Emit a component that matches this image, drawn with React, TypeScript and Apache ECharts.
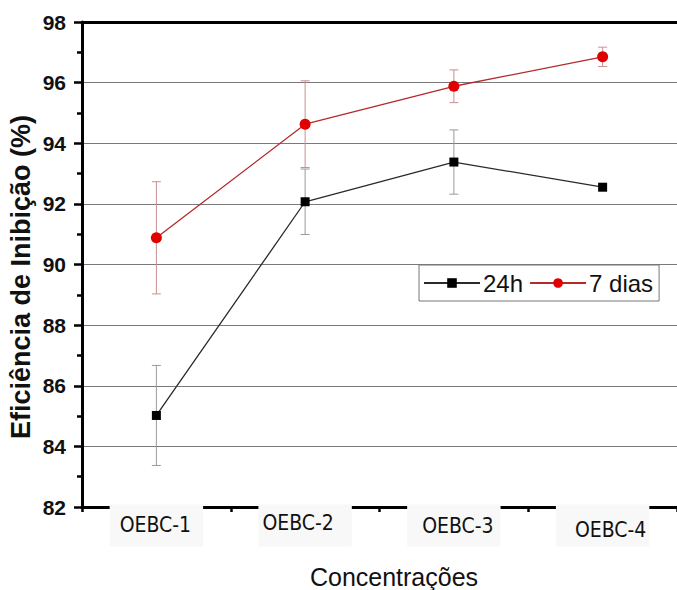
import React, { useEffect, useRef } from "react";
import * as echarts from "echarts";

const categories = ["OEBC-1", "OEBC-2", "OEBC-3", "OEBC-4"];
const h24 = [85.02, 92.07, 93.38, 92.55];
const h24Err = [1.65, 1.08, 1.06, 0];
const d7 = [90.88, 94.63, 95.88, 96.85];
const d7Err = [1.85, 1.43, 0.54, 0.32];
const yMin = 82;
const yMax = 98;
const yStep = 2;
const seriesNames = ["24h", "7 dias"];
const xTitle = "Concentrações";
const yTitle = "Eficiência de Inibição (%)";

const FONT = "Liberation Sans, Arial, sans-serif";
const NARROW = "Liberation Sans Narrow, DejaVu Sans Condensed, Liberation Sans, sans-serif";

// per-label box offsets (layout only): [dx, dy]
const labelShift = [
  [-1, 0],
  [-7, -2],
  [4, 1],
  [8, 5],
];

function errData(vals: number[], errs: number[]) {
  return vals.map((v, i) => [i, v - errs[i], v + errs[i]]);
}

function errRender(color: string) {
  return (params: any, api: any) => {
    const x = api.value(0);
    const lo = api.coord([x, api.value(1)]);
    const hi = api.coord([x, api.value(2)]);
    if (Math.abs(lo[1] - hi[1]) < 0.5) return { type: "group", children: [] };
    const w = 4.5;
    const st = { stroke: color, lineWidth: 1 };
    return {
      type: "group",
      children: [
        { type: "line", shape: { x1: lo[0], y1: lo[1], x2: hi[0], y2: hi[1] }, style: st },
        { type: "line", shape: { x1: lo[0] - w, y1: lo[1], x2: lo[0] + w, y2: lo[1] }, style: st },
        { type: "line", shape: { x1: hi[0] - w, y1: hi[1], x2: hi[0] + w, y2: hi[1] }, style: st },
      ],
    };
  };
}

const rich: Record<string, any> = {};
labelShift.forEach(([dx, dy], i) => {
  rich["l" + i] = {
    fontSize: 21,
    lineHeight: 21,
    fontFamily: NARROW,
    color: "#111",
    backgroundColor: "#f8f8f8",
    padding: [10 + dy, 11 - dx, 11 - dy, 11 + dx],
  };
});

export default function App() {
  const ref = useRef<HTMLDivElement>(null);
  useEffect(() => {
    document.body.style.margin = "0";
    const chart = echarts.init(ref.current!, null, { renderer: "svg" });
    chart.setOption({
      animation: false,
      backgroundColor: "#ffffff",
      grid: { left: 82, top: 22, bottom: 83, right: -8, containLabel: false },
      legend: {
        left: 419,
        top: 265,
        orient: "horizontal",
        padding: [6, 6, 6, 4],
        itemGap: 6,
        itemWidth: 56,
        itemHeight: 12,
        borderColor: "#777",
        borderWidth: 1,
        backgroundColor: "#fff",
        borderRadius: 0,
        textStyle: { fontSize: 24, color: "#111", fontFamily: FONT, padding: [0, 0, 0, -2] },
        data: seriesNames,
      },
      graphic: [
        {
          type: "text",
          x: 21,
          y: 277,
          rotation: Math.PI / 2,
          style: {
            text: yTitle,
            fontSize: 27,
            fontWeight: "bold",
            fontFamily: FONT,
            fill: "#111",
            align: "center",
            verticalAlign: "middle",
          },
        },
        {
          type: "text",
          x: 394,
          y: 577,
          style: {
            text: xTitle,
            fontSize: 25,
            fontFamily: FONT,
            fill: "#111",
            align: "center",
            verticalAlign: "middle",
          },
        },
      ],
      xAxis: [
        {
          type: "category",
          data: categories,
          boundaryGap: true,
          position: "bottom",
          axisLine: { show: true, lineStyle: { color: "#000", width: 3 } },
          axisTick: { show: true, alignWithLabel: true, length: 8, lineStyle: { color: "#000", width: 2.5 } },
          axisLabel: {
            margin: 8,
            formatter: (v: string) => `{l${categories.indexOf(v)}|${v}}`,
            rich,
          },
          splitLine: { show: false },
        },
        {
          type: "category",
          data: categories,
          boundaryGap: true,
          position: "bottom",
          axisLine: { show: false },
          axisTick: { show: true, alignWithLabel: false, length: 5, lineStyle: { color: "#000", width: 2.5 } },
          axisLabel: { show: false },
          splitLine: { show: false },
        },
        {
          type: "category",
          data: categories,
          boundaryGap: true,
          position: "top",
          axisLine: { show: true, lineStyle: { color: "#000", width: 3 } },
          axisTick: { show: false },
          axisLabel: { show: false },
          splitLine: { show: false },
        },
      ],
      yAxis: {
        type: "value",
        min: yMin,
        max: yMax,
        interval: yStep,
        axisLine: { show: true, lineStyle: { color: "#000", width: 3 } },
        axisTick: { show: true, length: 8, lineStyle: { color: "#000", width: 2.5 } },
        minorTick: { show: true, splitNumber: 2, length: 5, lineStyle: { color: "#000", width: 2.5 } },
        axisLabel: { fontSize: 21, fontWeight: "bold", color: "#111", fontFamily: FONT, margin: 16 },
        splitLine: { show: true, lineStyle: { color: "#7a7a7a", width: 1 } },
      },
      series: [
        {
          type: "custom",
          name: "err24",
          xAxisIndex: 0,
          renderItem: errRender("#9a9a9a"),
          data: errData(h24, h24Err),
          encode: { x: 0, y: [1, 2] },
          z: 1,
          silent: true,
        },
        {
          type: "custom",
          name: "err7",
          xAxisIndex: 0,
          renderItem: errRender("#c98f8f"),
          data: errData(d7, d7Err),
          encode: { x: 0, y: [1, 2] },
          z: 1,
          silent: true,
        },
        {
          type: "line",
          name: seriesNames[0],
          data: h24,
          symbol: "rect",
          symbolSize: 9,
          lineStyle: { color: "#2a2a2a", width: 1.3 },
          itemStyle: { color: "#000" },
          z: 3,
        },
        {
          type: "line",
          name: seriesNames[1],
          data: d7,
          symbol: "circle",
          symbolSize: 11,
          lineStyle: { color: "#b32a2a", width: 1.3 },
          itemStyle: { color: "#e00000" },
          z: 4,
        },
      ],
    });
    return () => chart.dispose();
  }, []);
  return <div ref={ref} style={{ width: 677, height: 590 }} />;
}
